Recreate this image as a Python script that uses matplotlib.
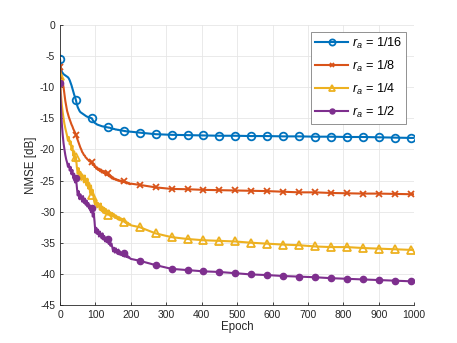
import matplotlib
matplotlib.use("Agg")
import matplotlib.pyplot as plt
import numpy as np

plt.rcParams['font.family'] = ['Liberation Sans', 'DejaVu Sans']
plt.rcParams['axes.unicode_minus'] = False
plt.rcParams['mathtext.fontset'] = 'custom'
plt.rcParams['mathtext.rm'] = 'Liberation Sans'
plt.rcParams['mathtext.it'] = 'Liberation Sans:italic'

# Epochs at which values were read: dense while training is noisy, sparse afterwards
early_epochs = list(np.arange(0, 200.1, 2.5))
late_epochs = [225, 270, 315, 360, 405, 450, 495, 540, 585, 630, 675, 720, 765, 810,
               855, 900, 945, 990, 1000]
epochs = early_epochs + late_epochs

# r_a = 1/16
nmse_16 = [-5.5, -6.8, -7.5, -7.7, -7.9, -8.0, -8.1, -8.2, -8.3, -8.4,
           -8.6, -8.9, -9.3, -9.7, -10.2, -10.7, -11.2, -11.6, -12.1, -12.7,
           -13.2, -13.5, -13.8, -14.0, -14.1, -14.2, -14.3, -14.4, -14.5, -14.6,
           -14.7, -14.75, -14.8, -14.85, -14.9, -14.95, -15.0, -15.3, -15.5, -15.7,
           -15.8, -15.9, -16.0, -16.05, -16.1, -16.15, -16.2, -16.25, -16.3, -16.3,
           -16.35, -16.4, -16.4, -16.45, -16.45, -16.5, -16.5, -16.55, -16.6, -16.65,
           -16.7, -16.7, -16.75, -16.8, -16.8, -16.85, -16.85, -16.9, -16.9, -16.95,
           -16.95, -17.0, -17.0, -17.05, -17.05, -17.1, -17.1, -17.1, -17.1, -17.15,
           -17.15,
           -17.3, -17.55, -17.65, -17.7, -17.75, -17.8, -17.8, -17.85, -17.85, -17.9,
           -17.9, -17.95, -17.95, -18.0, -18.0, -18.05, -18.1, -18.15, -18.15]

# r_a = 1/8
nmse_8 = [-6.8, -7.6, -8.4, -9.2, -10.0, -11.1, -12.2, -13.0, -13.8, -14.3,
          -14.8, -15.2, -15.6, -16.0, -16.3, -16.7, -17.0, -17.3, -17.6, -18.1,
          -18.5, -18.9, -19.3, -19.7, -20.0, -20.4, -20.6, -20.9, -21.0, -21.3,
          -21.4, -21.6, -21.7, -21.9, -21.8, -22.2, -22.1, -22.5, -22.3, -22.8,
          -22.7, -23.1, -22.9, -23.3, -23.1, -23.5, -23.2, -23.7, -23.4, -23.8,
          -23.5, -24.0, -23.7, -24.1, -23.8, -24.3, -24.1, -24.5, -24.3, -24.7,
          -24.5, -24.8, -24.7, -24.9, -24.8, -25.0, -24.9, -25.1, -25.0, -25.2,
          -25.1, -25.2, -25.1, -25.3, -25.2, -25.4, -25.3, -25.5, -25.4, -25.6,
          -25.5,
          -25.7, -26.1, -26.35, -26.4, -26.5, -26.55, -26.6, -26.65, -26.7, -26.8,
          -26.9, -26.9, -27.0, -27.05, -27.1, -27.1, -27.15, -27.2, -27.2]

# r_a = 1/4
nmse_4 = [-8.2, -11.0, -12.8, -14.0, -15.0, -15.9, -16.6, -17.2, -17.8, -18.6,
          -18.0, -19.2, -18.7, -20.1, -19.4, -21.0, -20.3, -21.9, -21.2, -22.8,
          -23.9, -23.0, -24.6, -23.6, -24.9, -24.0, -24.4, -25.3, -24.2, -25.1,
          -25.8, -24.7, -26.3, -25.4, -27.0, -25.8, -27.3, -26.5, -27.9, -28.6,
          -28.9, -28.1, -29.3, -28.6, -28.9, -29.7, -28.7, -29.9, -29.2, -30.2,
          -29.4, -30.3, -29.6, -29.9, -30.5, -29.8, -30.6, -30.1, -30.7, -30.2,
          -30.8, -30.4, -31.0, -30.6, -31.1, -30.8, -31.3, -30.9, -31.4, -31.1,
          -31.5, -31.2, -31.6, -31.4, -31.8, -31.6, -32.0, -31.8, -32.1, -32.0,
          -32.2,
          -32.5, -33.5, -34.1, -34.4, -34.6, -34.7, -34.8, -35.0, -35.15, -35.3,
          -35.4, -35.6, -35.7, -35.7, -35.85, -35.95, -36.05, -36.15, -36.15]

# r_a = 1/2
nmse_2 = [-9.3, -13.0, -15.8, -17.6, -19.0, -20.0, -20.9, -21.6, -22.1, -22.8,
          -22.3, -23.4, -22.8, -24.0, -23.3, -24.6, -23.9, -25.3, -24.6, -26.0,
          -27.4, -26.7, -28.0, -27.2, -27.8, -28.4, -27.5, -28.6, -27.9, -28.9,
          -28.2, -29.2, -28.6, -29.5, -29.0, -30.1, -29.4, -30.8, -30.2, -31.6,
          -33.4, -32.6, -33.6, -32.9, -34.0, -33.2, -33.6, -34.3, -33.5, -34.5,
          -33.9, -34.8, -34.2, -34.9, -34.4, -35.2, -34.7, -35.5, -35.1, -35.7,
          -36.4, -35.8, -36.6, -35.9, -36.2, -36.8, -36.1, -36.9, -36.4, -37.0,
          -36.6, -37.1, -36.7, -37.2, -36.9, -37.3, -37.0, -37.4, -37.3, -37.5,
          -37.6,
          -37.9, -38.6, -39.2, -39.4, -39.6, -39.7, -39.9, -40.1, -40.2, -40.35,
          -40.45, -40.55, -40.7, -40.8, -40.9, -41.0, -41.1, -41.2, -41.2]

labels = ['$r_a$ = 1/16', '$r_a$ = 1/8', '$r_a$ = 1/4', '$r_a$ = 1/2']
colors = ['#0072BD', '#D95319', '#EDB120', '#7E2F8E']

# one marker every 45 epochs
marker_idx = [i for i, e in enumerate(epochs) if e % 45 == 0]

fig = plt.figure(figsize=(4.57, 3.43), dpi=100)
ax = fig.add_axes([0.1313, 0.111, 0.775, 0.816])

ax.plot(epochs, nmse_16, color=colors[0], lw=1.5, marker='o', ms=5.5, mfc='none',
        mew=1.3, markevery=marker_idx, label=labels[0])
ax.plot(epochs, nmse_8, color=colors[1], lw=1.5, marker='x', ms=4, mew=1.3,
        markevery=marker_idx, label=labels[1])
ax.plot(epochs, nmse_4, color=colors[2], lw=1.5, marker='^', ms=6, mfc='none',
        mew=1.3, markevery=marker_idx, label=labels[2])
ax.plot(epochs, nmse_2, color=colors[3], lw=1.5, marker='o', ms=4.5, mew=1.0,
        markevery=marker_idx, label=labels[3])

ax.set_xlim(0, 1000)
ax.set_ylim(-45, 0)
ax.set_xticks(range(0, 1001, 100))
ax.set_yticks(range(-45, 1, 5))
ax.grid(True, color='#e6e6e6', lw=0.6)
ax.set_axisbelow(True)
for s in ['top', 'right']:
    ax.spines[s].set_visible(False)
for s in ['left', 'bottom']:
    ax.spines[s].set_color('#262626')
    ax.spines[s].set_linewidth(0.6)
ax.tick_params(direction='in', length=2.5, width=0.6, labelsize=7.5, colors='#262626')

ax.set_xlabel('Epoch', fontsize=8.3, color='#262626', labelpad=1)
ax.set_ylabel('NMSE [dB]', fontsize=8.3, color='#262626', labelpad=2)

leg = ax.legend(loc='upper right', bbox_to_anchor=(0.985, 0.985), fontsize=9.2,
                handlelength=2.6, labelspacing=0.62, handletextpad=0.3,
                borderpad=0.3, borderaxespad=0.2, fancybox=False, framealpha=1,
                markerscale=0.8)
leg.get_frame().set_edgecolor('#808080')
leg.get_frame().set_linewidth(0.6)

fig.savefig('out.png', dpi=100)
